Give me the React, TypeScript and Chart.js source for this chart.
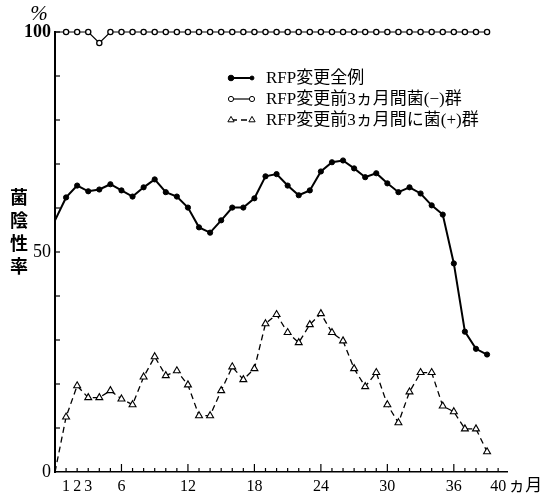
import React, { useEffect, useRef } from "react";
import { Chart, registerables } from "chart.js";

Chart.register(...registerables);

// ---- data ----
const months = [0, 1, 2, 3, 4, 5, 6, 7, 8, 9, 10, 11, 12, 13, 14, 15, 16, 17, 18, 19, 20, 21, 22, 23, 24, 25, 26, 27, 28, 29, 30, 31, 32, 33, 34, 35, 36, 37, 38, 39];
const allCases = [57.2, 62.4, 65.1, 63.8, 64.2, 65.4, 64.0, 62.6, 64.7, 66.5, 63.6, 62.6, 60.1, 55.6, 54.4, 57.2, 60.1, 60.1, 62.2, 67.2, 67.7, 65.1, 62.9, 64.0, 68.3, 70.4, 70.8, 69.0, 67.0, 67.9, 65.6, 63.6, 64.7, 63.3, 60.6, 58.5, 47.4, 31.9, 28.0, 26.7];
const negGroup = [100, 100, 100, 100, 97.5, 100, 100, 100, 100, 100, 100, 100, 100, 100, 100, 100, 100, 100, 100, 100, 100, 100, 100, 100, 100, 100, 100, 100, 100, 100, 100, 100, 100, 100, 100, 100, 100, 100, 100, 100];
const posGroup = [0, 12.5, 19.6, 16.9, 16.9, 18.5, 16.6, 15.3, 21.6, 26.2, 21.9, 23.0, 19.8, 12.8, 12.8, 18.5, 23.9, 21.0, 23.5, 33.7, 35.8, 31.7, 29.4, 33.5, 36.0, 31.7, 29.8, 23.5, 19.4, 22.6, 15.3, 11.2, 18.2, 22.6, 22.6, 15.0, 13.7, 9.8, 9.8, 4.6];
const seriesLabels = ["RFP変更全例", "RFP変更前3ヵ月間菌(−)群", "RFP変更前3ヵ月間に菌(+)群"];
const xTickLabels = [1, 2, 3, 6, 12, 18, 24, 30, 36, 40];
const yTickLabels = [0, 50, 100];
const yTitle = "菌陰性率";
const xUnit = "ヵ月";
const yUnit = "%";

const SERIF = '"Liberation Serif", "Noto Sans CJK JP", serif';
const CJK = '"Noto Sans CJK JP", "Liberation Serif", serif';

function toPoints(vals: number[]) {
  return months.map((m, i) => ({ x: m, y: vals[i] }));
}

function drawMarker(ctx: CanvasRenderingContext2D, kind: string, x: number, y: number, r: number, fill: string) {
  ctx.beginPath();
  if (kind === "triangle") {
    const s = Math.sin(Math.PI / 3);
    ctx.moveTo(x, y - r);
    ctx.lineTo(x - r * s, y + r * 0.5);
    ctx.lineTo(x + r * s, y + r * 0.5);
    ctx.closePath();
  } else {
    ctx.arc(x, y, r, 0, Math.PI * 2);
  }
  ctx.fillStyle = fill;
  ctx.fill();
  ctx.stroke();
}

const decor = {
  id: "decor",
  afterDraw(chart: any) {
    const { ctx, chartArea, scales } = chart;
    const xs = scales.x;
    const ys = scales.y;
    ctx.save();
    ctx.strokeStyle = "#000";
    ctx.lineWidth = 1.2;
    ctx.setLineDash([]);
    // inward y ticks
    for (let v = 10; v <= 100; v += 10) {
      const py = ys.getPixelForValue(v);
      ctx.beginPath();
      ctx.moveTo(chartArea.left, py);
      ctx.lineTo(chartArea.left + 5, py);
      ctx.stroke();
    }
    // inward x ticks
    for (let m = 1; m <= 40; m++) {
      const px = xs.getPixelForValue(m);
      const len = m % 6 === 0 ? 8 : 4;
      ctx.beginPath();
      ctx.moveTo(px, chartArea.bottom);
      ctx.lineTo(px, chartArea.bottom - len);
      ctx.stroke();
    }
    // units
    ctx.fillStyle = "#000";
    ctx.font = `italic 21px ${SERIF}`;
    ctx.textAlign = "center";
    ctx.textBaseline = "middle";
    ctx.fillText(yUnit, 39, 14);
    ctx.font = `17px ${CJK}`;
    ctx.textAlign = "left";
    ctx.fillText(xUnit, xs.getPixelForValue(40) + 10, chartArea.bottom + 13);
    // y title, vertical stacked
    ctx.font = `bold 18px ${CJK}`;
    ctx.textAlign = "center";
    const chars = Array.from(yTitle);
    chars.forEach((c, i) => {
      ctx.fillText(c, 19, 197 + i * 23);
    });
    // legend
    const rows = [78, 99, 120];
    chart.data.datasets.forEach((ds: any, i: number) => {
      const yy = rows[i];
      const x1 = 231;
      const x2 = 252;
      ctx.strokeStyle = "#000";
      ctx.lineWidth = ds.borderWidth;
      ctx.setLineDash(ds.borderDash || []);
      ctx.beginPath();
      ctx.moveTo(x1, yy);
      ctx.lineTo(x2, yy);
      ctx.stroke();
      ctx.setLineDash([]);
      ctx.lineWidth = 1;
      const kind = ds.pointStyle === "triangle" ? "triangle" : "circle";
      const r = ds.legendRadius;
      drawMarker(ctx, kind, x1, yy, r, ds.pointBackgroundColor);
      drawMarker(ctx, kind, x2, yy, i === 0 ? r * 0.7 : r, ds.pointBackgroundColor);
      ctx.fillStyle = "#000";
      ctx.font = `17px ${SERIF}`;
      ctx.textAlign = "left";
      ctx.textBaseline = "middle";
      ctx.fillText(ds.label, 266, yy + 1);
    });
    ctx.restore();
  },
};

export default function App() {
  const ref = useRef<HTMLCanvasElement | null>(null);
  useEffect(() => {
    if (!ref.current) return;
    const noFirst = (r: number) => (c: any) => (c.dataIndex === 0 ? 0 : r);
    const chart = new Chart(ref.current, {
      type: "line",
      data: {
        datasets: [
          {
            label: seriesLabels[0],
            data: toPoints(allCases),
            borderColor: "#000",
            borderWidth: 2,
            pointStyle: "circle",
            pointRadius: noFirst(2.6),
            pointBackgroundColor: "#000",
            pointBorderColor: "#000",
            pointBorderWidth: 1,
            tension: 0,
            clip: false,
            legendRadius: 2.8,
          } as any,
          {
            label: seriesLabels[1],
            data: toPoints(negGroup),
            borderColor: "#000",
            borderWidth: 1.2,
            pointStyle: "circle",
            pointRadius: noFirst(2.6),
            pointBackgroundColor: "#fff",
            pointBorderColor: "#000",
            pointBorderWidth: 1.3,
            tension: 0,
            clip: false,
            legendRadius: 2.6,
          } as any,
          {
            label: seriesLabels[2],
            data: toPoints(posGroup),
            borderColor: "#000",
            borderWidth: 1.3,
            borderDash: [6, 4],
            pointStyle: "triangle",
            pointRadius: noFirst(4),
            pointBackgroundColor: "#fff",
            pointBorderColor: "#000",
            pointBorderWidth: 1.1,
            tension: 0,
            clip: false,
            legendRadius: 3.6,
          } as any,
        ],
      },
      options: {
        responsive: false,
        animation: false,
        devicePixelRatio: 1,
        layout: { padding: { left: 8, top: 32, right: 34, bottom: 0 } },
        plugins: { legend: { display: false }, tooltip: { enabled: false } },
        scales: {
          x: {
            type: "linear",
            min: 0,
            max: 40.8,
            grid: { display: false, drawTicks: false },
            border: { display: true, color: "#000", width: 1.6 },
            afterFit: (s: any) => {
              s.height = 23;
            },
            afterBuildTicks: (s: any) => {
              s.ticks = xTickLabels.map((v) => ({ value: v }));
            },
            ticks: {
              autoSkip: false,
              maxRotation: 0,
              padding: 5,
              color: "#000",
              font: { family: SERIF, size: 16 },
              callback: (v: any) => String(v),
            },
          },
          y: {
            type: "linear",
            min: 0,
            max: 100,
            grid: { display: false, drawTicks: false },
            border: { display: true, color: "#000", width: 2 },
            afterFit: (s: any) => {
              s.width = 47;
            },
            afterBuildTicks: (s: any) => {
              s.ticks = yTickLabels.map((v) => ({ value: v }));
            },
            ticks: {
              autoSkip: false,
              padding: 4,
              color: "#000",
              font: (c: any) =>
                c.tick && c.tick.value === 100
                  ? { family: SERIF, size: 18, weight: "bold" }
                  : { family: SERIF, size: 18 },
              callback: (v: any) => String(v),
            },
          },
        },
      } as any,
      plugins: [decor],
    });
    return () => chart.destroy();
  }, []);
  return (
    <div style={{ position: "absolute", left: 0, top: 0, width: 541, height: 495, background: "#fff" }}>
      <canvas ref={ref} width={541} height={495} />
    </div>
  );
}
